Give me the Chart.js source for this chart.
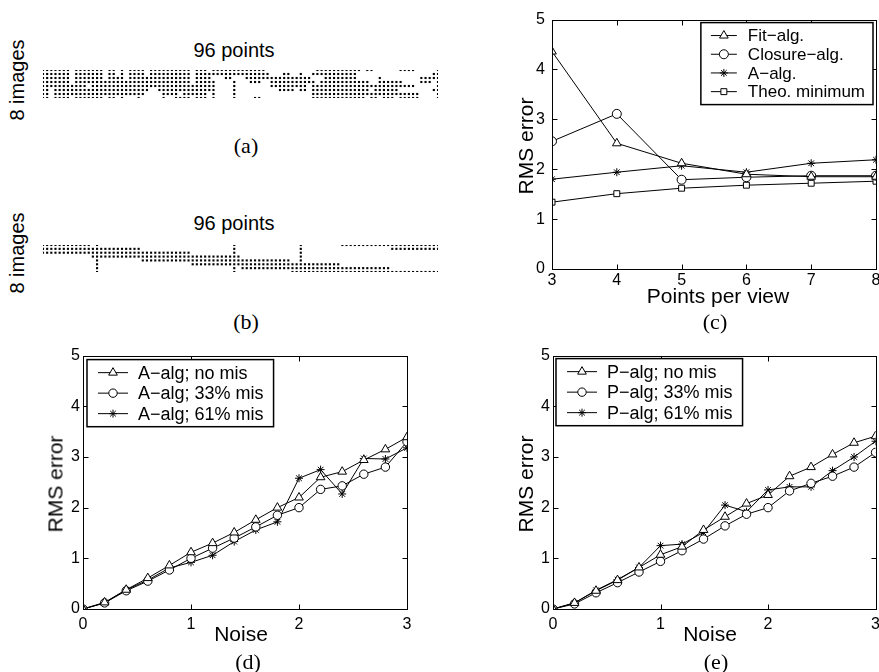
<!DOCTYPE html>
<html>
<head>
<meta charset="utf-8">
<script src="https://cdn.jsdelivr.net/npm/chart.js"></script>
<style>
html, body { margin: 0; padding: 0; background: #fff; overflow: hidden; }
body { width: 879px; height: 672px; position: relative; font-family: "Liberation Sans", Arial, sans-serif; }
.box { position: absolute; }
.lbl { position: absolute; transform: translate(-50%, -50%); white-space: nowrap; line-height: 1; color: #000; font-size: 20px; }
.ax { font-size: 21px; }
.rot { transform: translate(-50%, -50%) rotate(-90deg); }
.cap { font-family: "Liberation Serif", "Times New Roman", serif; font-size: 22px; }
</style>
</head>
<body>

<div class="box" style="left:39px;top:66px;width:403px;height:36px"><canvas id="chartA"></canvas></div>
<div class="box" style="left:39px;top:241px;width:403px;height:35px"><canvas id="chartB"></canvas></div>
<div class="box" style="left:505px;top:3px;width:381px;height:287px"><canvas id="chartC"></canvas></div>
<div class="box" style="left:40px;top:343px;width:417px;height:289px"><canvas id="chartD"></canvas></div>
<div class="box" style="left:505px;top:343px;width:381px;height:289px"><canvas id="chartE"></canvas></div>

<div class="lbl" style="left:234px;top:50px">96 points</div>
<div class="lbl rot" style="left:17px;top:80px">8 images</div>
<div class="lbl cap" style="left:246px;top:146px">(a)</div>

<div class="lbl" style="left:234px;top:223px">96 points</div>
<div class="lbl rot" style="left:17px;top:253px">8 images</div>
<div class="lbl cap" style="left:246px;top:322px">(b)</div>

<div class="lbl ax rot" style="left:525px;top:146px">RMS error</div>
<div class="lbl ax" style="left:718px;top:295px">Points per view</div>
<div class="lbl cap" style="left:715px;top:322px">(c)</div>

<div class="lbl ax rot" style="left:55px;top:484px">RMS error</div>
<div class="lbl ax" style="left:241px;top:633px">Noise</div>
<div class="lbl cap" style="left:248px;top:662px">(d)</div>

<div class="lbl ax rot" style="left:525px;top:484px">RMS error</div>
<div class="lbl ax" style="left:710px;top:633px">Noise</div>
<div class="lbl cap" style="left:716px;top:662px">(e)</div>

<script>
// visible points per image, as [first, last] column spans (columns 0..95)
var imageRowsA = [
  [[0,6],[8,14],[16,17],[19,19],[21,24],[26,35],[37,39],[41,53],[66,76],[78,79],[86,89],[95,95]],
  [[0,6],[8,14],[16,17],[19,19],[21,24],[26,35],[37,54],[58,59],[62,62],[65,75],[94,95]],
  [[0,6],[8,14],[16,19],[21,35],[37,40],[44,45],[49,64],[68,75],[81,81],[91,95]],
  [[0,6],[8,35],[37,41],[46,46],[50,52],[55,65],[67,78],[81,86],[91,93],[95,95]],
  [[0,10],[12,41],[46,46],[55,63],[65,89],[95,95]],
  [[0,1],[3,25],[28,41],[46,46],[57,60],[62,63],[65,78],[80,85],[94,95]],
  [[0,1],[3,24],[29,32],[34,39],[41,41],[46,46],[65,90],[95,95]],
  [[0,1],[3,6],[8,14],[16,17],[19,19],[23,23],[29,29],[32,35],[37,39],[41,41],[46,46],[51,52],[65,77],[79,80],[82,84],[86,90],[95,95]]
];
var imageRowsB = [
  [[0,11],[13,13],[46,46],[62,62],[72,95]],
  [[0,23],[46,46],[62,62],[84,95]],
  [[0,35],[46,46],[62,62]],
  [[12,47],[62,62]],
  [[13,13],[24,59],[62,62]],
  [[13,13],[36,71]],
  [[13,13],[46,46],[48,83]],
  [[13,13],[46,46],[60,95]]
];

var pointsPerView = [3, 4, 5, 6, 7, 8];
var fitAlg     = [4.36, 2.52, 2.12, 1.90, 1.85, 1.85];
var closureAlg = [2.56, 3.11, 1.79, 1.84, 1.87, 1.87];
var aAlg       = [1.80, 1.94, 2.07, 1.94, 2.12, 2.19];
var theoMin    = [1.34, 1.51, 1.62, 1.68, 1.72, 1.76];

var noiseLevels = [0, 0.2, 0.4, 0.6, 0.8, 1.0, 1.2, 1.4, 1.6, 1.8, 2.0, 2.2, 2.4, 2.6, 2.8, 3.0];
var aNoMis  = [0, 0.13, 0.38, 0.61, 0.86, 1.12, 1.30, 1.51, 1.76, 2.00, 2.20, 2.60, 2.71, 2.94, 3.15, 3.39];
var a33Mis  = [0, 0.12, 0.36, 0.55, 0.77, 1.00, 1.20, 1.40, 1.62, 1.85, 2.00, 2.36, 2.43, 2.66, 2.80, 3.30];
var a61Mis  = [0, 0.12, 0.38, 0.57, 0.81, 0.92, 1.06, 1.33, 1.56, 1.72, 2.58, 2.75, 2.27, 2.97, 2.96, 3.18];
var pNoMis  = [0, 0.12, 0.36, 0.57, 0.82, 1.07, 1.23, 1.56, 1.82, 2.08, 2.25, 2.62, 2.80, 3.05, 3.28, 3.41];
var p33Mis  = [0, 0.10, 0.32, 0.52, 0.73, 0.94, 1.15, 1.38, 1.64, 1.87, 2.00, 2.33, 2.48, 2.62, 2.80, 3.09];
var p61Mis  = [0, 0.12, 0.37, 0.58, 0.82, 1.25, 1.28, 1.51, 2.05, 1.92, 2.35, 2.41, 2.41, 2.73, 3.00, 3.31];

var FONT = '"Liberation Sans", Arial, sans-serif';
Chart.defaults.font.family = FONT;
Chart.defaults.color = '#000';

function spansToPoints(rows) {
  var pts = [];
  rows.forEach(function (spans, r) {
    spans.forEach(function (s) {
      for (var c = s[0]; c <= s[1]; c++) pts.push({ x: c, y: r });
    });
  });
  return pts;
}

function dotChart(id, rows) {
  new Chart(document.getElementById(id), {
    type: 'scatter',
    data: { datasets: [{ data: spansToPoints(rows), pointStyle: 'rect', pointRadius: 1.5,
                         backgroundColor: '#000', borderWidth: 0 }] },
    options: {
      animation: false, responsive: true, maintainAspectRatio: false, events: [],
      layout: { padding: 3 },
      plugins: { legend: { display: false }, tooltip: { enabled: false } },
      scales: {
        x: { type: 'linear', min: 0, max: 95, display: false },
        y: { type: 'linear', min: 0, max: 7, reverse: true, display: false }
      }
    }
  });
}

// matlab style box, inward ticks and boxed legend with line + marker
var boxLegend = {
  id: 'boxLegend',
  afterDraw: function (chart, args, o) {
    var ctx = chart.ctx, a = chart.chartArea;
    var xs = chart.scales.x, ys = chart.scales.y;
    var l = Math.round(a.left) + 0.5, t = Math.round(a.top) + 0.5;
    var r = Math.round(a.right) + 0.5, b = Math.round(a.bottom) + 0.5;
    ctx.save();
    ctx.strokeStyle = '#000';
    ctx.lineWidth = 1;
    ctx.strokeRect(l, t, r - l, b - t);
    ctx.beginPath();
    xs.ticks.forEach(function (tk) {
      var px = Math.round(xs.getPixelForValue(tk.value)) + 0.5;
      ctx.moveTo(px, b); ctx.lineTo(px, b - 5);
      ctx.moveTo(px, t); ctx.lineTo(px, t + 5);
    });
    ys.ticks.forEach(function (tk) {
      var py = Math.round(ys.getPixelForValue(tk.value)) + 0.5;
      ctx.moveTo(l, py); ctx.lineTo(l + 5, py);
      ctx.moveTo(r, py); ctx.lineTo(r - 5, py);
    });
    ctx.stroke();

    ctx.font = o.fontSize + 'px ' + FONT;
    var sets = chart.data.datasets;
    var tw = 0;
    sets.forEach(function (d) { tw = Math.max(tw, ctx.measureText(d.label).width); });
    var w = o.padL + o.lineLen + o.gap + tw + o.padR;
    var h = o.rowH * sets.length + o.padV * 2;
    var bx = o.align === 'right' ? a.right - o.offset - w : a.left + o.offset;
    var by = a.top + o.offset;
    ctx.fillStyle = '#fff';
    ctx.fillRect(bx, by, w, h);
    ctx.lineWidth = 1.5;
    ctx.strokeRect(bx, by, w, h);
    sets.forEach(function (d, i) {
      var cy = by + o.padV + o.rowH * (i + 0.5);
      var lx = bx + o.padL;
      ctx.lineWidth = 1;
      ctx.strokeStyle = '#000';
      ctx.beginPath(); ctx.moveTo(lx, cy); ctx.lineTo(lx + o.lineLen, cy); ctx.stroke();
      ctx.fillStyle = d.pointBackgroundColor;
      Chart.helpers.drawPoint(ctx, { pointStyle: d.pointStyle, radius: d.pointRadius, rotation: 0, borderWidth: 1 },
                              lx + o.lineLen / 2, cy);
      ctx.fillStyle = '#000';
      ctx.textAlign = 'left';
      ctx.textBaseline = 'middle';
      ctx.fillText(d.label, lx + o.lineLen + o.gap, cy + 1);
    });
    ctx.restore();
  }
};

function series(label, xs, ys, style, radius) {
  return {
    label: label,
    data: xs.map(function (x, i) { return { x: x, y: ys[i] }; }),
    borderColor: '#000', borderWidth: 1, tension: 0,
    pointStyle: style, pointRadius: radius, pointBorderWidth: 1,
    pointBorderColor: '#000', pointBackgroundColor: '#fff'
  };
}

function lineChart(id, datasets, g) {
  new Chart(document.getElementById(id), {
    type: 'line',
    data: { datasets: datasets },
    plugins: [boxLegend],
    options: {
      animation: false, responsive: true, maintainAspectRatio: false, events: [],
      layout: { padding: { left: 0, top: g.top, right: g.right, bottom: 0 } },
      plugins: { legend: { display: false }, tooltip: { enabled: false }, boxLegend: g.legend },
      scales: {
        x: {
          type: 'linear', min: g.xMin, max: g.xMax,
          ticks: { stepSize: 1, padding: g.xPad, font: { size: 16 }, color: '#000', maxRotation: 0 },
          grid: { display: false, drawTicks: false }, border: { display: false },
          afterFit: function (s) { s.height = g.xHeight; }
        },
        y: {
          type: 'linear', min: 0, max: 5,
          ticks: { stepSize: 1, padding: g.yPad, font: { size: 16 }, color: '#000' },
          grid: { display: false, drawTicks: false }, border: { display: false },
          afterFit: function (s) { s.width = g.yWidth; }
        }
      }
    }
  });
}

dotChart('chartA', imageRowsA);
dotChart('chartB', imageRowsB);

lineChart('chartC', [
  series('Fit\u2212alg.', pointsPerView, fitAlg, 'triangle', 5),
  series('Closure\u2212alg.', pointsPerView, closureAlg, 'circle', 4.5),
  series('A\u2212alg.', pointsPerView, aAlg, 'star', 4),
  series('Theo. minimum', pointsPerView, theoMin, 'rect', 4.2)
], { top: 12, right: 10, xHeight: 21, yWidth: 47, xMin: 3, xMax: 8, xPad: 2, yPad: 7,
     legend: { align: 'right', offset: 3, fontSize: 17, padL: 10, lineLen: 26, gap: 11, padR: 8, rowH: 18.7, padV: 3.6 } });

lineChart('chartD', [
  series('A\u2212alg; no mis', noiseLevels, aNoMis, 'triangle', 5),
  series('A\u2212alg; 33% mis', noiseLevels, a33Mis, 'circle', 4.2),
  series('A\u2212alg; 61% mis', noiseLevels, a61Mis, 'star', 4)
], { top: 12, right: 50, xHeight: 23, yWidth: 43, xMin: 0, xMax: 3, xPad: 6, yPad: 3,
     legend: { align: 'left', offset: 4, fontSize: 18, padL: 11, lineLen: 30, gap: 10, padR: 10, rowH: 20.5, padV: 2.8 } });

lineChart('chartE', [
  series('P\u2212alg; no mis', noiseLevels, pNoMis, 'triangle', 5),
  series('P\u2212alg; 33% mis', noiseLevels, p33Mis, 'circle', 4.2),
  series('P\u2212alg; 61% mis', noiseLevels, p61Mis, 'star', 4)
], { top: 12, right: 10, xHeight: 23, yWidth: 48, xMin: 0, xMax: 3, xPad: 6, yPad: 3,
     legend: { align: 'left', offset: 3, fontSize: 18, padL: 11, lineLen: 30, gap: 10, padR: 10, rowH: 20.5, padV: 2.8 } });
</script>
</body>
</html>
